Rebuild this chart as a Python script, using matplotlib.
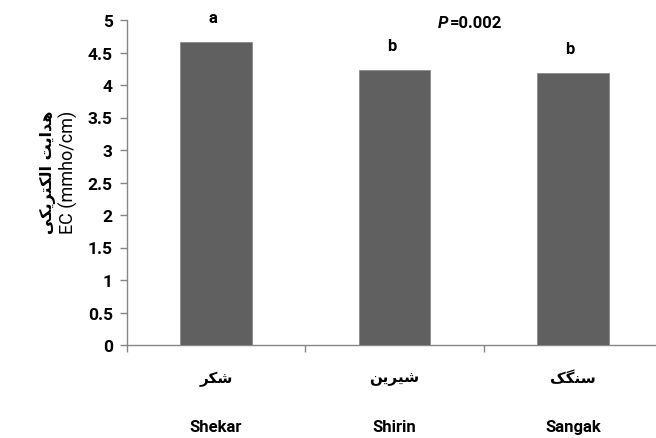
import matplotlib
matplotlib.use("Agg")
import matplotlib.pyplot as plt

# Data
categories_en = ["Shekar", "Shirin", "Sangak"]
# Persian labels in visual order, pre-shaped presentation forms
categories_fa = ["\uFEAE\uFB91\uFEB7",                 # شکر
                 "\uFEE6\uFBFE\uFEAE\uFBFF\uFEB7",       # شیرین
                 "\uFB8F\uFB95\uFEE8\uFEB3"]             # سنگک
values = [4.66, 4.23, 4.19]
letters = ["a", "b", "b"]
yticks = [0, 0.5, 1, 1.5, 2, 2.5, 3, 3.5, 4, 4.5, 5]
ylabel_fa = "\uFBFD\uFB91\uFBFE\uFEAE\uFE98\uFB91\uFEDF\uFE8D \uFE96\uFBFE\uFE8D\uFEAA\uFEEB"  # هدایت الکتریکی
ylabel_en = "EC (mmho/cm)"
p_text = "0.002"

FONT = "Roboto"
W, H = 656, 439
fig = plt.figure(figsize=(W / 100, H / 100), dpi=100)
ax = fig.add_axes([126.6 / W, 1 - 346 / H, 1 - 126.6 / W, (346 - 21) / H])

gray = "#868686"
bar_color = "#606060"
x = list(range(len(values)))
ax.bar(x, values, width=0.4, color=bar_color, edgecolor="#8a8a8a", linewidth=0.6, zorder=3)

ax.set_xlim(-0.5, 2.466)
ax.set_ylim(0, 5)
ax.set_yticks(yticks)
ax.set_yticklabels([f"{t:g}" for t in yticks], fontfamily=FONT, fontweight="bold", fontsize=12.5)
ax.set_xticks([-0.5, 0.5, 1.5])
ax.set_xticklabels([])
ax.tick_params(axis="both", direction="out", length=5, width=1, color=gray)
ax.tick_params(axis="y", pad=5)
for s in ["top", "right"]:
    ax.spines[s].set_visible(False)
for s in ["left", "bottom"]:
    ax.spines[s].set_color(gray)
    ax.spines[s].set_linewidth(1)

# letters above bars
for xi, v, l in zip(x, values, letters):
    ax.annotate(l, (xi, v), xytext=(-2, 12), textcoords="offset points", ha="center", va="bottom",
                fontfamily=FONT, fontweight="bold", fontsize=12)

# category labels
for xi, fa, en in zip(x, categories_fa, categories_en):
    ax.annotate(fa, (xi, 0), xycoords=("data", "axes fraction"), xytext=(0, -33),
                textcoords="offset pixels", ha="center", va="center",
                fontfamily="DejaVu Sans", fontweight="bold", fontsize=11)
    ax.annotate(en, (xi, 0), xycoords=("data", "axes fraction"), xytext=(0, -82),
                textcoords="offset pixels", ha="center", va="center",
                fontfamily=FONT, fontweight="bold", fontsize=12)

# P value
fig.text(438 / W, 1 - 23 / H, "P", fontfamily=FONT, fontweight="bold", fontstyle="italic",
         fontsize=12, ha="left", va="center")
fig.text(450 / W, 1 - 23 / H, "=" + p_text, fontfamily=FONT, fontweight="bold",
         fontsize=12, ha="left", va="center")

# y label (two lines)
fig.text(48 / W, 1 - 172 / H, ylabel_fa, rotation=90, ha="center", va="center",
         fontfamily="DejaVu Sans", fontweight="bold", fontsize=11.5)
fig.text(68 / W, 1 - 172 / H, ylabel_en, rotation=90, ha="center", va="center",
         fontfamily=FONT, fontsize=13)

fig.savefig("out.png", dpi=100)
